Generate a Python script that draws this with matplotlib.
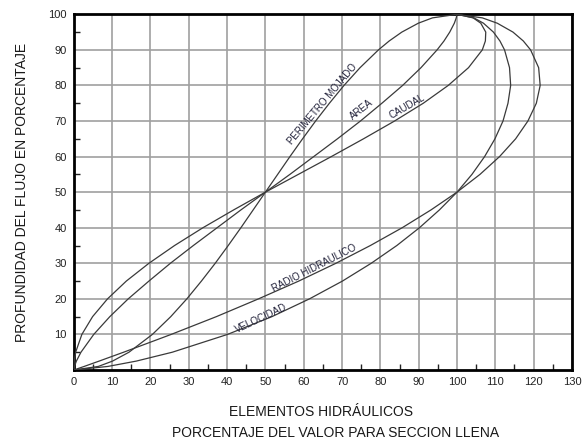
import matplotlib
matplotlib.use("Agg")
import matplotlib.pyplot as plt
from matplotlib.ticker import MultipleLocator

plt.rcParams['font.family'] = ['Liberation Sans', 'DejaVu Sans']

# Depth of flow (% of diameter)
profundidad = [0, 1, 2.5, 5, 10, 15, 20, 25, 30, 35, 40, 45, 50,
               55, 60, 65, 70, 75, 80, 85, 90, 92.5, 95, 97.5, 99, 100]

# Hydraulic elements (% of full-section value)
perimetro = [0, 6.4, 10.1, 14.4, 20.5, 25.3, 29.5, 33.3, 36.9, 40.3, 43.6, 46.8, 50.0,
             53.2, 56.4, 59.7, 63.1, 66.7, 70.5, 74.7, 79.5, 82.3, 85.6, 89.9, 93.6, 100]
area = [0, 0.17, 0.67, 1.87, 5.2, 9.4, 14.2, 19.6, 25.2, 31.2, 37.4, 43.6, 50.0,
        56.4, 62.6, 68.8, 74.8, 80.4, 85.8, 90.6, 94.8, 96.6, 98.1, 99.3, 99.8, 100]
caudal = [0, 0.02, 0.11, 0.48, 2.1, 4.9, 8.8, 13.7, 19.6, 26.3, 33.7, 41.7, 50.0,
          58.6, 67.2, 75.6, 83.7, 91.2, 97.7, 103.0, 106.6, 107.4, 107.5, 106.2, 104.2, 100]
radio = [0, 2.7, 6.6, 13.0, 25.4, 37.2, 48.2, 58.7, 68.4, 77.4, 85.7, 93.2, 100.0,
         106.0, 111.1, 115.3, 118.5, 120.7, 121.7, 121.3, 119.2, 117.3, 114.6, 110.5, 106.6, 100]
velocidad = [0, 8.9, 16.3, 25.7, 40.1, 51.7, 61.5, 70.1, 77.6, 84.3, 90.2, 95.4, 100.0,
             103.9, 107.2, 109.9, 112.0, 113.3, 114.0, 113.7, 112.4, 111.2, 109.5, 106.9, 104.4, 100]

xticks = list(range(0, 131, 10))
yticks = list(range(10, 101, 10))

fig = plt.figure(figsize=(5.83, 4.43), dpi=100)
ax = fig.add_axes([0.1266, 0.1648, 0.8545, 0.8029])

curve_color = '#3a3a3a'
for serie in (perimetro, area, caudal, radio, velocidad):
    ax.plot(serie, profundidad, color=curve_color, lw=0.9, solid_capstyle='round', zorder=3)

ax.set_xlim(0, 130)
ax.set_ylim(0, 100)
ax.set_xticks(xticks)
ax.set_yticks(yticks)
ax.xaxis.set_minor_locator(MultipleLocator(5))
ax.yaxis.set_minor_locator(MultipleLocator(5))
ax.grid(True, which='major', color='#a0a0a0', lw=1.2, zorder=1)
ax.tick_params(which='major', direction='in', length=0, labelsize=8, pad=5, labelcolor='#222222')
ax.tick_params(which='minor', direction='in', length=4, width=1.0, color='#222222')
for s in ax.spines.values():
    s.set_linewidth(2.0)
    s.set_color('black')

ax.set_ylabel('PROFUNDIDAD DEL FLUJO EN PORCENTAJE', fontsize=10, labelpad=14, color='#1a1a1a')

fig.text(0.551, 0.070, 'ELEMENTOS HIDRÁULICOS', ha='center', va='center', fontsize=10, color='#1a1a1a')
fig.text(0.575, 0.023, 'PORCENTAJE DEL VALOR PARA SECCION LLENA', ha='center', va='center',
         fontsize=10, color='#1a1a1a')

lab_color = '#22223a'
labels = [
    ('PERIMETRO MOJADO', 64.9, 74.9, 50),
    ('AREA', 75.1, 73.3, 38),
    ('CAUDAL', 87.0, 74.2, 30),
    ('RADIO HIDRAULICO', 62.7, 28.6, 27),
    ('VELOCIDAD', 48.8, 14.5, 25),
]
for txt, x, y, rot in labels:
    ax.text(x, y, txt, fontsize=7, rotation=rot, rotation_mode='anchor',
            ha='center', va='center', color=lab_color, zorder=4)

fig.savefig('out.png', dpi=100)
